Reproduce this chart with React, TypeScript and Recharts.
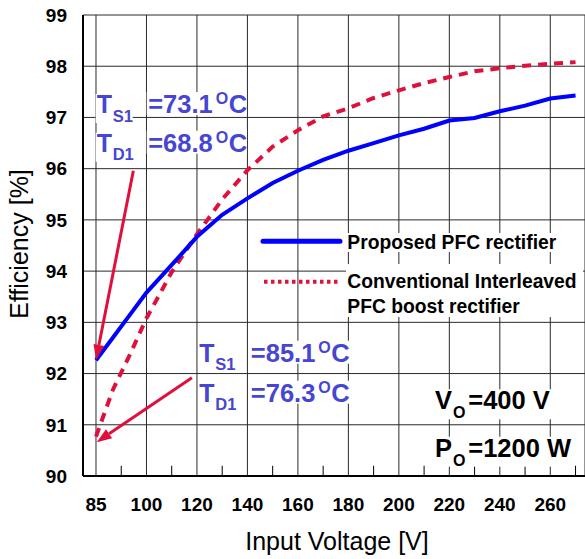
import { CartesianGrid, Line, LineChart, ReferenceLine, XAxis, YAxis } from "recharts";

const FONT = "Arial, 'Liberation Sans', Helvetica, sans-serif";
const BLUE = "#0000ff";
const RED = "#e0103c";
const NOTE = "#4646d2";

// input voltage [V] and efficiency [%]
const voltages = [85, 90, 95, 100, 110, 120, 130, 140, 150, 160, 170, 180, 190, 200, 210, 220, 230, 240, 250, 260, 270];
const proposed = [92.26, 92.7, 93.14, 93.58, 94.12, 94.67, 95.1, 95.42, 95.72, 95.96, 96.17, 96.35, 96.5, 96.65, 96.78, 96.94, 96.99, 97.12, 97.23, 97.37, 97.43];
const conventional = [90.77, 91.68, 92.36, 93.08, 93.98, 94.72, 95.4, 95.97, 96.43, 96.75, 97.02, 97.18, 97.38, 97.53, 97.67, 97.79, 97.9, 97.96, 98.01, 98.05, 98.08];

const voltageTicks = [85, 100, 120, 140, 160, 180, 200, 220, 240, 260];
const minorTicks = [92.5, 110, 130, 150, 170, 190, 210, 230, 250, 270];
const effTicks = [90, 91, 92, 93, 94, 95, 96, 97, 98, 99];

// arrows: [from, to] as [voltage, efficiency]
const arrows = [
  [[96.1, 95.96], [85, 92.27]],
  [[118, 91.92], [85.2, 90.66]],
];

// the original axis squeezes 85..100 into one 20 V division
const toAxis = (v: number) => (v < 100 ? 80 + ((v - 85) * 4) / 3 : v);
const axisTicks = voltageTicks.map(toAxis);

const rows = voltages.map((v, i) => ({
  x: toAxis(v),
  proposed: proposed[i],
  conventional: conventional[i],
}));

const Arrow = (p: any) => {
  const { x1, y1, x2, y2 } = p;
  const a = Math.atan2(y2 - y1, x2 - x1);
  const len = 15;
  const w = 5.5;
  const bx = x2 - len * Math.cos(a);
  const by = y2 - len * Math.sin(a);
  const px = -Math.sin(a) * w;
  const py = Math.cos(a) * w;
  return (
    <g>
      <line x1={x1} y1={y1} x2={bx} y2={by} stroke={RED} strokeWidth={3} />
      <polygon points={`${x2},${y2} ${bx + px},${by + py} ${bx - px},${by - py}`} fill={RED} />
    </g>
  );
};

function TempLine({ x, y, sub, value }: { x: number; y: number; sub: string; value: string }) {
  return (
    <g fill={NOTE} fontFamily={FONT} fontWeight="bold">
      <rect x={x - 1} y={y - 19} width={37} height={29} fill="#fff" />
      <rect x={x + 50} y={y - 21} width={100} height={23} fill="#fff" />
      <text x={x} y={y} fontSize={25}>T</text>
      <text x={x + 16} y={y + 8.5} fontSize={16.5}>{sub}</text>
      <text x={x + 51.5} y={y} fontSize={25.5}>={value}</text>
      <text x={x + 119} y={y - 9} fontSize={16}>O</text>
      <text x={x + 132} y={y} fontSize={25.5}>C</text>
    </g>
  );
}

function OutLine({ y, sym, value, w }: { y: number; sym: string; value: string; w: number }) {
  return (
    <g fill="#000" fontFamily={FONT} fontWeight="bold">
      <rect x={433} y={y - 20} width={w} height={30} fill="#fff" />
      <text x={435} y={y} fontSize={25.5}>{sym}</text>
      <text x={453} y={y + 9} fontSize={16}>O</text>
      <text x={468.3} y={y} fontSize={25.5}>{value}</text>
    </g>
  );
}

export default function App() {
  return (
    <div style={{ position: "absolute", left: 0, top: 0, width: 585, height: 559, background: "#fff" }}>
      <LineChart width={585} height={559} data={rows} margin={{ top: 15, right: 0, bottom: 0, left: 0 }}>
        <CartesianGrid stroke="#2a2a2a" strokeWidth={1} />
        <XAxis
          dataKey="x"
          type="number"
          domain={[74.85, 273.75]}
          ticks={axisTicks}
          interval={0}
          tickFormatter={(t: number) => String(voltageTicks[axisTicks.indexOf(t)] ?? t)}
          height={83}
          tickLine={false}
          tickSize={0}
          tickMargin={22}
          axisLine={{ stroke: "#000", strokeWidth: 2 }}
          tick={{ fill: "#000", fontSize: 19, fontWeight: "bold", fontFamily: FONT }}
          allowDataOverflow
        />
        <YAxis
          type="number"
          domain={[90, 99]}
          ticks={effTicks}
          interval={0}
          width={83}
          tickLine={false}
          tickSize={0}
          tickMargin={16}
          axisLine={{ stroke: "#000", strokeWidth: 2 }}
          tick={{ fill: "#000", fontSize: 19, fontWeight: "bold", fontFamily: FONT }}
          allowDataOverflow
        />
        {minorTicks.map((v) => (
          <ReferenceLine
            key={v}
            segment={[{ x: toAxis(v), y: 90 }, { x: toAxis(v), y: 90.2 }]}
            stroke="#000"
            strokeWidth={1}
            ifOverflow="visible"
          />
        ))}
        <Line
          dataKey="conventional"
          type="linear"
          stroke={RED}
          strokeWidth={4}
          strokeDasharray="9 7"
          dot={false}
          isAnimationActive={false}
        />
        <Line dataKey="proposed" type="linear" stroke={BLUE} strokeWidth={4} dot={false} isAnimationActive={false} />
        {arrows.map(([from, to], i) => (
          <ReferenceLine
            key={`a${i}`}
            segment={[{ x: toAxis(from[0]), y: from[1] }, { x: toAxis(to[0]), y: to[1] }]}
            shape={Arrow}
            ifOverflow="visible"
          />
        ))}
      </LineChart>
      <svg width={585} height={559} style={{ position: "absolute", left: 0, top: 0, pointerEvents: "none" }}>
        <TempLine x={96.7} y={113} sub="S1" value="73.1" />
        <TempLine x={96.7} y={151.7} sub="D1" value="68.8" />
        <TempLine x={199.3} y={361.7} sub="S1" value="85.1" />
        <TempLine x={199.3} y={401.7} sub="D1" value="76.3" />

        <OutLine y={409.3} sym="V" value="=400 V" w={119} />
        <OutLine y={456.7} sym="P" value="=1200 W" w={140} />

        <g fontFamily={FONT} fontWeight="bold" fontSize={19.3} fill="#000">
          <rect x={346} y={233} width={212} height={19} fill="#fff" />
          <rect x={346} y={264} width={237} height={53} fill="#fff" />
          <line x1={263} y1={241.3} x2={340} y2={241.3} stroke={BLUE} strokeWidth={5} strokeLinecap="round" />
          <line x1={264} y1={281.7} x2={340} y2={281.7} stroke={RED} strokeWidth={4} strokeDasharray="3.5 3.5" />
          <text x={347.3} y={249.3}>Proposed PFC rectifier</text>
          <text x={347.3} y={288.3}>Conventional Interleaved</text>
          <text x={347.3} y={312.7}>PFC boost rectifier</text>
        </g>

        <text x={337} y={550} fontFamily={FONT} fontSize={25} textAnchor="middle" fill="#000">
          Input Voltage [V]
        </text>
        <text
          transform="translate(28 244) rotate(-90)"
          fontFamily={FONT}
          fontSize={25}
          textAnchor="middle"
          fill="#000"
        >
          Efficiency [%]
        </text>
      </svg>
    </div>
  );
}
